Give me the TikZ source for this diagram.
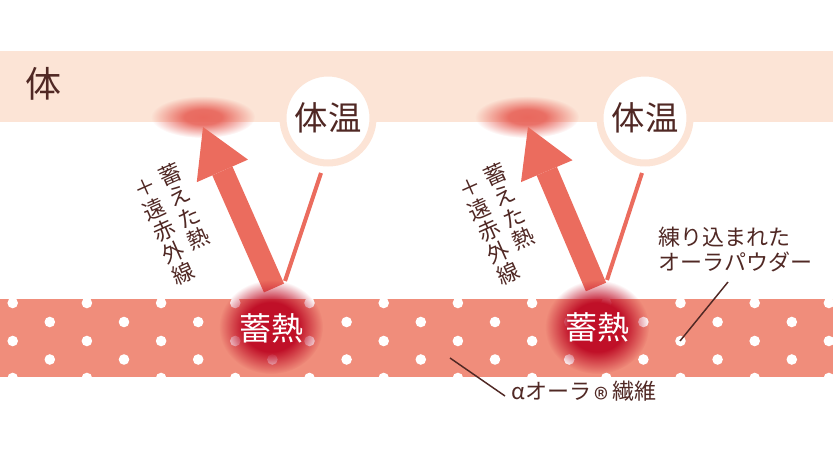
\documentclass[tikz,border=0pt]{standalone}
\usepackage{fontspec}
\setmainfont{Noto Sans CJK JP}
\usepackage{tikz}
\usetikzlibrary{arrows.meta,fadings}

\definecolor{skinband}{RGB}{252,228,214}
\definecolor{fabric}{RGB}{240,141,123}
\definecolor{heatarrow}{RGB}{235,108,94}
\definecolor{heatcore}{RGB}{192,16,40}
\definecolor{topglow}{RGB}{232,98,88}
\definecolor{inkbrown}{RGB}{80,40,36}

\pgfdeclareradialshading{glowshade}{\pgfpointorigin}{color(0bp)=(pgftransparent!0); color(13bp)=(pgftransparent!0); color(25bp)=(pgftransparent!100); color(50bp)=(pgftransparent!100)}
\pgfdeclarefading{glowfading}{\pgfuseshading{glowshade}}
\pgfdeclareradialshading{softshade}{\pgfpointorigin}{color(0bp)=(pgftransparent!5); color(9bp)=(pgftransparent!10); color(25bp)=(pgftransparent!100); color(50bp)=(pgftransparent!100)}
\pgfdeclarefading{softfading}{\pgfuseshading{softshade}}

\tikzset{
  templabel/.style={circle, fill=white, draw=skinband, line width=5.25pt, minimum size=67.5pt, inner sep=0pt, text=inkbrown, font=\fontsize{25}{25}\selectfont},
  heatlabel/.style={text=white, inner sep=0pt, font=\fontsize{24}{24}\selectfont},
  vlabel/.style={rotate=24, align=center, inner sep=0pt, text=inkbrown, font=\fontsize{16.5}{17.6}\selectfont},
  notelabel/.style={text=inkbrown, font=\fontsize{16.5}{19}\selectfont},
  bigarrow/.style={heatarrow, line width=16.5pt, -{Triangle[width=42pt,length=36pt,line width=0pt]}},
  thinline/.style={heatarrow, line width=3pt},
  leader/.style={inkbrown, line width=1.1pt},
}

\begin{document}
\begin{tikzpicture}[x=0.75pt,y=0.75pt,yscale=-1,xscale=1]
\useasboundingbox (0,0) rectangle (833,459);

%Shape: Rectangle (body)
\fill[skinband] (0,51) rectangle (833,122);

%Shape: Ellipse (warmth in the body)
\fill[topglow, path fading=softfading] (203,117) ellipse (52 and 21);
\fill[topglow, path fading=softfading] (527,117) ellipse (52 and 21);

%Shape: Rectangle (fibre) with dots
\begin{scope}
\clip (0,299) rectangle (833,377);
\fill[fabric] (0,299) rectangle (833,377);
\foreach \y in {303,341,378}
  \foreach \x in {12.7,86.9,...,840}
    \fill[white] (\x,\y) circle (5.3);
\foreach \y in {322,359.5}
  \foreach \x in {49.8,124,...,840}
    \fill[white] (\x,\y) circle (5.3);
\end{scope}

% coordinates
\coordinate (tip1) at (203,127);
\coordinate (base1) at (274,288);
\coordinate (tip2) at (528,127);
\coordinate (base2) at (596,287);
\coordinate (join1) at (285,281);
\coordinate (join2) at (607,280);

%Straight Lines (heat arrows)
\draw[bigarrow] (base1) -- (tip1);
\draw[bigarrow] (base2) -- (tip2);

% Body temperature circles
\node[templabel] (temp1) at (328,118) {体温};
\node[templabel] (temp2) at (645,118) {体温};

%Straight Lines
\draw[thinline] (temp1) ++(-7,55) -- (join1);
\draw[thinline] (temp2) ++(-3,55) -- (join2);

%Shape: Ellipse (stored heat)
\fill[heatcore, path fading=glowfading] (271,327) ellipse (52 and 47);
\fill[heatcore, path fading=glowfading] (597,327) ellipse (52 and 47);

% Text Node
\node[heatlabel] (heat1) at (271,328) {蓄熱};
\node[heatlabel] (heat2) at (597,327) {蓄熱};
% Text Node
\node[text=inkbrown, font=\fontsize{27}{27}\selectfont] (body) at (44,84) {体};
% Text Node
\node[vlabel] (stored1) at (184,206.5) {蓄\\え\\た\\熱};
\node[vlabel] (infra1) at (164.5,231.5) {＋\\遠\\赤\\外\\線};
\node[vlabel] (stored2) at (509,206.5) {蓄\\え\\た\\熱};
\node[vlabel] (infra2) at (489.5,231.5) {＋\\遠\\赤\\外\\線};
% Text Node
\node[notelabel, align=left, anchor=west, inner sep=0pt] (powdertxt) at (658,249.5) {練り込まれた\\オーラパウダー};
\node[notelabel, anchor=west, inner sep=4.5pt] (fibertxt) at (505,396) {αオーラ\,\raisebox{-0.9ex}{\fontsize{22}{22}\selectfont ®}\,繊維};

% leader lines
\coordinate (powderdot) at (680,341);
\coordinate (powderend) at (728,282);
\coordinate (fiberpt) at (450,358);
\draw[leader] (powderdot) -- (powderend);
\draw[leader] (fiberpt) -- (fibertxt.west);

\end{tikzpicture}
\end{document}
